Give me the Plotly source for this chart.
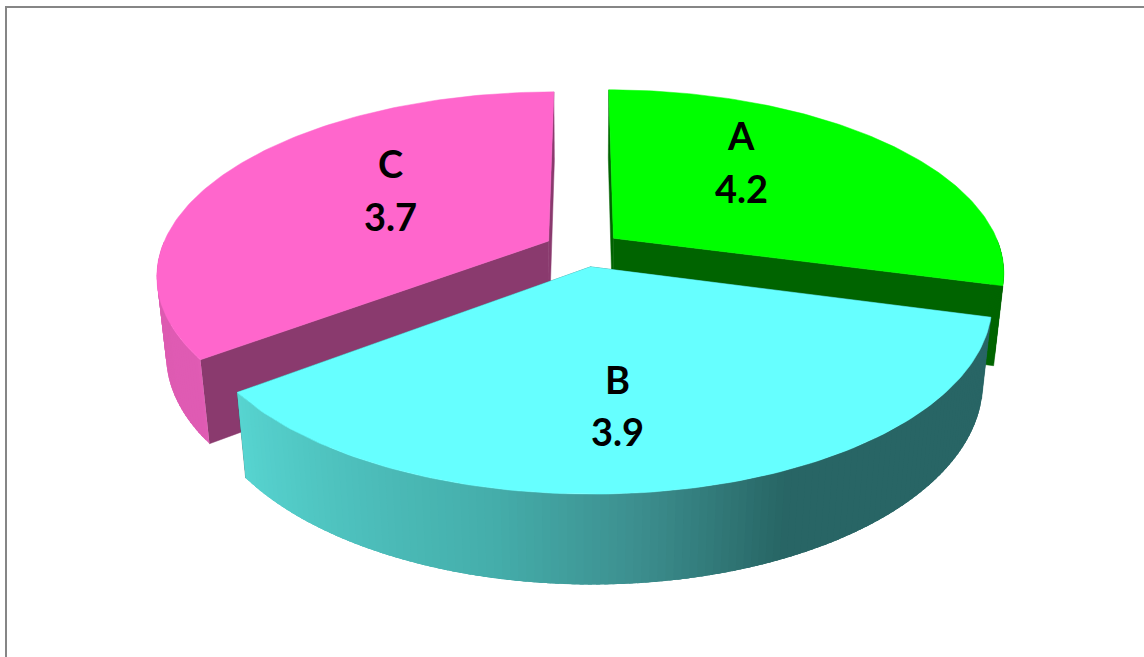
import numpy as np
import plotly.graph_objects as go

# Data
categories = ["A", "B", "C"]
values = [4.2, 3.9, 3.7]
value_labels = ["4.2", "3.9", "3.7"]
# Sweep each slice occupies as drawn in the picture (degrees, clockwise from 12 o'clock)
slice_sweep_deg = [105, 128, 127]

# Style
top_colors = {"A": "#00ff00", "B": "#66ffff", "C": "#ff66cc"}
face_colors = {"A": "#006400", "B": "#296565", "C": "#8a3a6e"}
wall_stops = {
    "A": ([0, 360], ["#006400", "#006400"]),
    "B": ([104, 156, 175, 192, 234], ["#296565", "#286665", "#3d9090", "#45aeab", "#58d6d2"]),
    "C": ([234, 360], ["#e05cb4", "#d558a8"]),
}

# View
CX, CY = 583, 249
F, D = 1898.0, 4.9
TILT = np.radians(27.5)
HEIGHT = 0.232
EXPLODE = 0.1
DRAW_ORDER = ["A", "C", "B"]


def project(x, y, z):
    s, c = np.sin(TILT), np.cos(TILT)
    depth = D + y * c - z * s
    return CX + F * x / depth, CY - F * (y * s + z * c) / depth


def hexrgb(h):
    return np.array([int(h[i:i + 2], 16) for i in (1, 3, 5)], float)


def wall_color(cat, th):
    xs, cols = wall_stops[cat]
    rgb = np.array([hexrgb(k) for k in cols])
    return "rgb(%d,%d,%d)" % tuple(np.interp(th, xs, rgb[:, i]) for i in range(3))


def poly(fig, px, py, color, width=0.5):
    fig.add_trace(go.Scatter(
        x=list(px) + [px[0]], y=list(py) + [py[0]], mode="lines", fill="toself",
        fillcolor=color, line=dict(color=color, width=width),
        hoverinfo="skip", showlegend=False))


starts = np.concatenate([[0], np.cumsum(slice_sweep_deg)[:-1]])
fig = go.Figure()

for cat in DRAW_ORDER:
    i = categories.index(cat)
    t0, t1 = float(starts[i]), float(starts[i] + slice_sweep_deg[i])
    mid = np.radians((t0 + t1) / 2)
    ox, oy = EXPLODE * np.sin(mid), EXPLODE * np.cos(mid)

    def rim(th, z):
        r = np.radians(th)
        return project(ox + np.sin(r), oy + np.cos(r), z)

    # radial faces
    for th in (t0, t1):
        ax0, ay0 = project(ox, oy, 0)
        ax1, ay1 = project(ox, oy, -HEIGHT)
        bx0, by0 = rim(th, 0)
        bx1, by1 = rim(th, -HEIGHT)
        poly(fig, [ax0, bx0, bx1, ax1], [ay0, by0, by1, ay1], face_colors[cat])

    # outer wall, as overlapping narrow strips shaded along the rim
    lo, hi = max(t0, 90.0), min(t1, 270.0)
    if hi > lo:
        edges = np.linspace(lo, hi, int((hi - lo) / 1.0) + 1)
        step = edges[1] - edges[0]
        for a in edges[:-1]:
            b = min(a + 2.5 * step, hi)
            xs0, ys0 = rim(np.linspace(a, b, 4), 0)
            xs1, ys1 = rim(np.linspace(b, a, 4), -HEIGHT)
            poly(fig, list(xs0) + list(xs1), list(ys0) + list(ys1),
                 wall_color(cat, a + step / 2), width=0)

    # top face
    ths = np.linspace(t0, t1, 120)
    rx, ry = rim(ths, 0)
    ax, ay = project(ox, oy, 0)
    poly(fig, [ax] + list(rx), [ay] + list(ry), top_colors[cat])

# Label positions in page pixels
label_x = {"A": 741, "B": 617, "C": 390}
label_y_name = {"A": 135, "B": 379, "C": 163}
label_y_value = {"A": 188, "B": 431, "C": 216}
annotations = []
for cat, val in zip(categories, value_labels):
    for txt, yy in ((cat, label_y_name[cat]), (val, label_y_value[cat])):
        annotations.append(dict(
            x=label_x[cat], y=yy, xref="x", yref="y", text="<b>%s</b>" % txt, showarrow=False,
            font=dict(family="Lato", size=38, color="#000000"), xanchor="center", yanchor="middle"))

frame = [
    dict(type="line", xref="x", yref="y", x0=6, x1=6, y0=6, y1=657, line=dict(color="#868686", width=2)),
    dict(type="line", xref="x", yref="y", x0=5, x1=1144, y0=7, y1=7, line=dict(color="#868686", width=2)),
]

fig.update_layout(
    width=1144, height=657, margin=dict(l=0, r=0, t=0, b=0),
    paper_bgcolor="#ffffff", plot_bgcolor="#ffffff", showlegend=False,
    xaxis=dict(range=[0, 1144], visible=False, fixedrange=True),
    yaxis=dict(range=[657, 0], visible=False, fixedrange=True),
    annotations=annotations, shapes=frame,
)
fig.write_html("out.html", config={"displayModeBar": False},
               post_script="document.body.style.margin='0';document.body.style.overflow='hidden';")
